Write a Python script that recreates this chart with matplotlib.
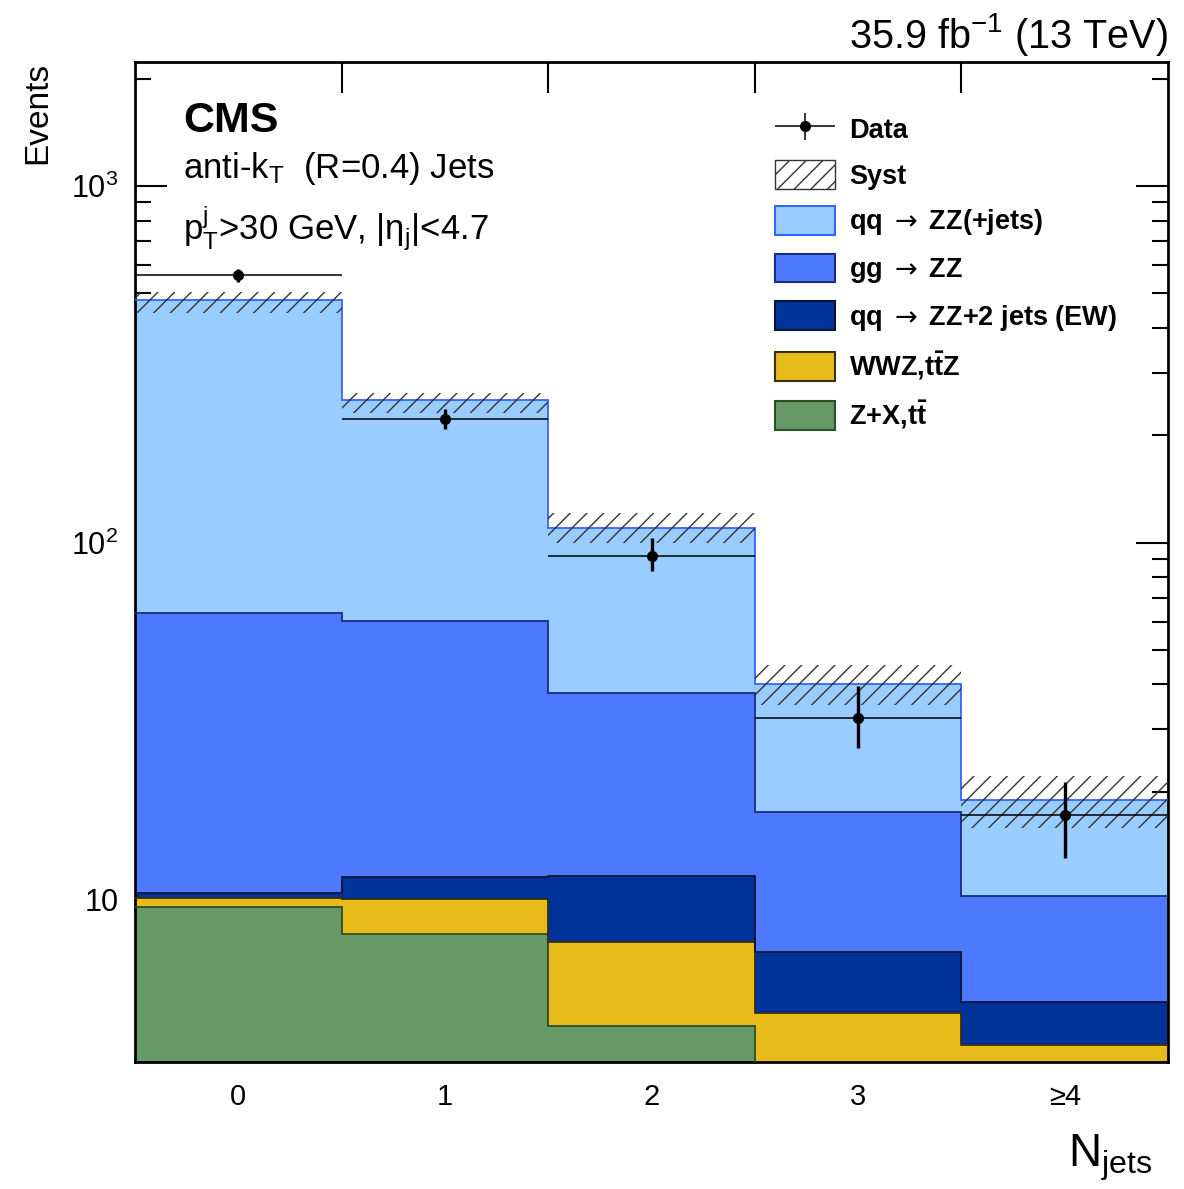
import numpy as np
import matplotlib
matplotlib.use("Agg")
import matplotlib.pyplot as plt
from matplotlib.patches import Patch
from matplotlib.legend_handler import HandlerErrorbar
from matplotlib.container import ErrorbarContainer
from matplotlib.ticker import FixedLocator, LogLocator, NullFormatter

plt.rcParams["font.family"] = ["Liberation Sans", "DejaVu Sans"]
plt.rcParams["mathtext.fontset"] = "custom"
plt.rcParams["mathtext.rm"] = "Liberation Sans"
plt.rcParams["mathtext.it"] = "Liberation Sans:italic"
plt.rcParams["mathtext.bf"] = "Liberation Sans:bold"
plt.rcParams["mathtext.sf"] = "DejaVu Sans"
plt.rcParams["hatch.linewidth"] = 1.0

# bins and labels
bin_edges = [-0.5, 0.5, 1.5, 2.5, 3.5, 4.5]
bin_centers = [0, 1, 2, 3, 4]
bin_labels = ["0", "1", "2", "3", "\u22654"]

# per-process yields (stack order bottom -> top)
zx_tt = [9.5, 8.0, 4.4, 1.5, 1.0]
wwz_ttz = [0.6, 2.0, 3.2, 3.3, 2.9]
qq_ew = [0.3, 1.5, 4.0, 2.3, 1.25]
gg_zz = [53.0, 48.7, 26.2, 10.4, 5.05]
qq_zz = [415.0, 190.8, 72.2, 22.5, 8.7]

# systematic band
syst_lo = [441, 231, 100, 35.0, 15.8]
syst_hi = [505, 262, 121, 45.3, 22.1]

# data
data_y = [563, 222, 92, 32.3, 17.2]
data_err_lo = [24, 14, 9, 5.7, 4.2]
data_err_hi = [24, 15, 11, 7.2, 4.1]

arrow = r"$\mathsf{\rightarrow}$"
procs = [
    (zx_tt, "#669966", "#2b4d2b", r"Z+X,$\mathbf{t\bar{t}}$"),
    (wwz_ttz, "#e6bb1a", "#3a2f05", r"WWZ,$\mathbf{t\bar{t}}$Z"),
    (qq_ew, "#003399", "#0a1533", "qq " + arrow + " ZZ+2 jets (EW)"),
    (gg_zz, "#4d79ff", "#1a2d80", "gg " + arrow + " ZZ"),
    (qq_zz, "#99ccff", "#3366ff", "qq " + arrow + " ZZ(+jets)"),
]

fig = plt.figure(figsize=(11.84, 11.89), dpi=100)
ax = fig.add_axes([135 / 1184, 1 - 1062 / 1189, 1033 / 1184, 1000 / 1189])
ax.set_yscale("log")

cum = np.zeros(5)
tops = []
for vals, fc, ec, lab in procs:
    base = cum.copy()
    cum = cum + np.array(vals)
    tops.append((base, cum.copy(), fc, ec))

for base, top, fc, ec in tops:
    b = np.where(base > 0, base, 0.1)
    ax.stairs(top, bin_edges, baseline=b, fill=True, facecolor=fc, edgecolor="none", zorder=2)
for base, top, fc, ec in tops:
    ax.stairs(top, bin_edges, baseline=None, color=ec, lw=1.3, zorder=3)

ax.stairs(syst_hi, bin_edges, baseline=syst_lo, fill=True, facecolor="none",
          edgecolor="#333333", hatch="//", lw=0, zorder=4)

eb = ax.errorbar(bin_centers, data_y, xerr=0.5, yerr=[data_err_lo, data_err_hi],
                 fmt="o", color="black", ms=7, elinewidth=2, capsize=0, zorder=5)
eb[2][0].set_linewidth(1.1)
eb[2][1].set_linewidth(2.4)

ax.set_xlim(-0.5, 4.5)
ax.set_ylim(3.49, 2230)

# axes styling
for sp in ax.spines.values():
    sp.set_linewidth(2.0)
ax.xaxis.set_major_locator(FixedLocator(bin_centers))
ax.set_xticklabels(bin_labels, fontsize=21)
ax.xaxis.set_minor_locator(FixedLocator(bin_edges[1:-1]))
ax.tick_params(axis="x", which="major", length=0, pad=15)
ax.tick_params(axis="x", which="minor", length=22, width=1.5, direction="in", top=True, bottom=True)
ax.yaxis.set_major_locator(FixedLocator([10, 100, 1000]))
ax.set_yticklabels(["10", "$10^{2}$", "$10^{3}$"], fontsize=22)
ax.yaxis.set_minor_locator(LogLocator(base=10, subs=np.arange(2, 10)))
ax.yaxis.set_minor_formatter(NullFormatter())
ax.tick_params(axis="y", which="major", length=23, width=1.5, direction="in", left=True, right=True, pad=12)
ax.tick_params(axis="y", which="minor", length=11.5, width=1.5, direction="in", left=True, right=True)

# texts
ax.text(183, 1189 - 132, "CMS", transform=None, fontsize=31, fontweight="bold", va="baseline")
ax.text(183, 1189 - 178, r"anti-k$_{\mathrm{T}}$  (R=0.4) Jets", transform=None, fontsize=25, va="baseline")
ax.text(183, 1189 - 240, r"p$_{\mathrm{T}}^{\mathrm{j}}$>30 GeV, |η$_{\mathrm{j}}$|<4.7",
        transform=None, fontsize=25, va="baseline")
fig.text(1168 / 1184, 1 - 48 / 1189, r"35.9 fb$^{-1}$ (13 TeV)", ha="right", va="baseline", fontsize=28.5)
fig.text(38 / 1184, 1 - 62 / 1189, "Events", rotation=90, ha="center", va="top", fontsize=24)
fig.text(1152 / 1184, 1 - 1183 / 1189, r"N$_{\mathrm{jets}}$", ha="right", va="bottom", fontsize=33)

# legend
handles = [eb, Patch(facecolor="white", edgecolor="#333333", hatch="//", lw=1.0)]
labels = ["Data", "Syst"]
for vals, fc, ec, lab in reversed(procs):
    handles.append(Patch(facecolor=fc, edgecolor=ec, lw=1.5))
    labels.append(lab)
leg = ax.legend(handles, labels, loc="upper left", bbox_to_anchor=((761 - 135) / 1033, (1062 - 101) / 1000),
                frameon=False, borderpad=0, handlelength=2.25, handleheight=1.25,
                labelspacing=0.6, handletextpad=0.5, prop={"size": 19.5, "weight": "bold"},
                handler_map={ErrorbarContainer: HandlerErrorbar(xerr_size=1.1, yerr_size=0.5)})

fig.savefig("out.png", dpi=100)
